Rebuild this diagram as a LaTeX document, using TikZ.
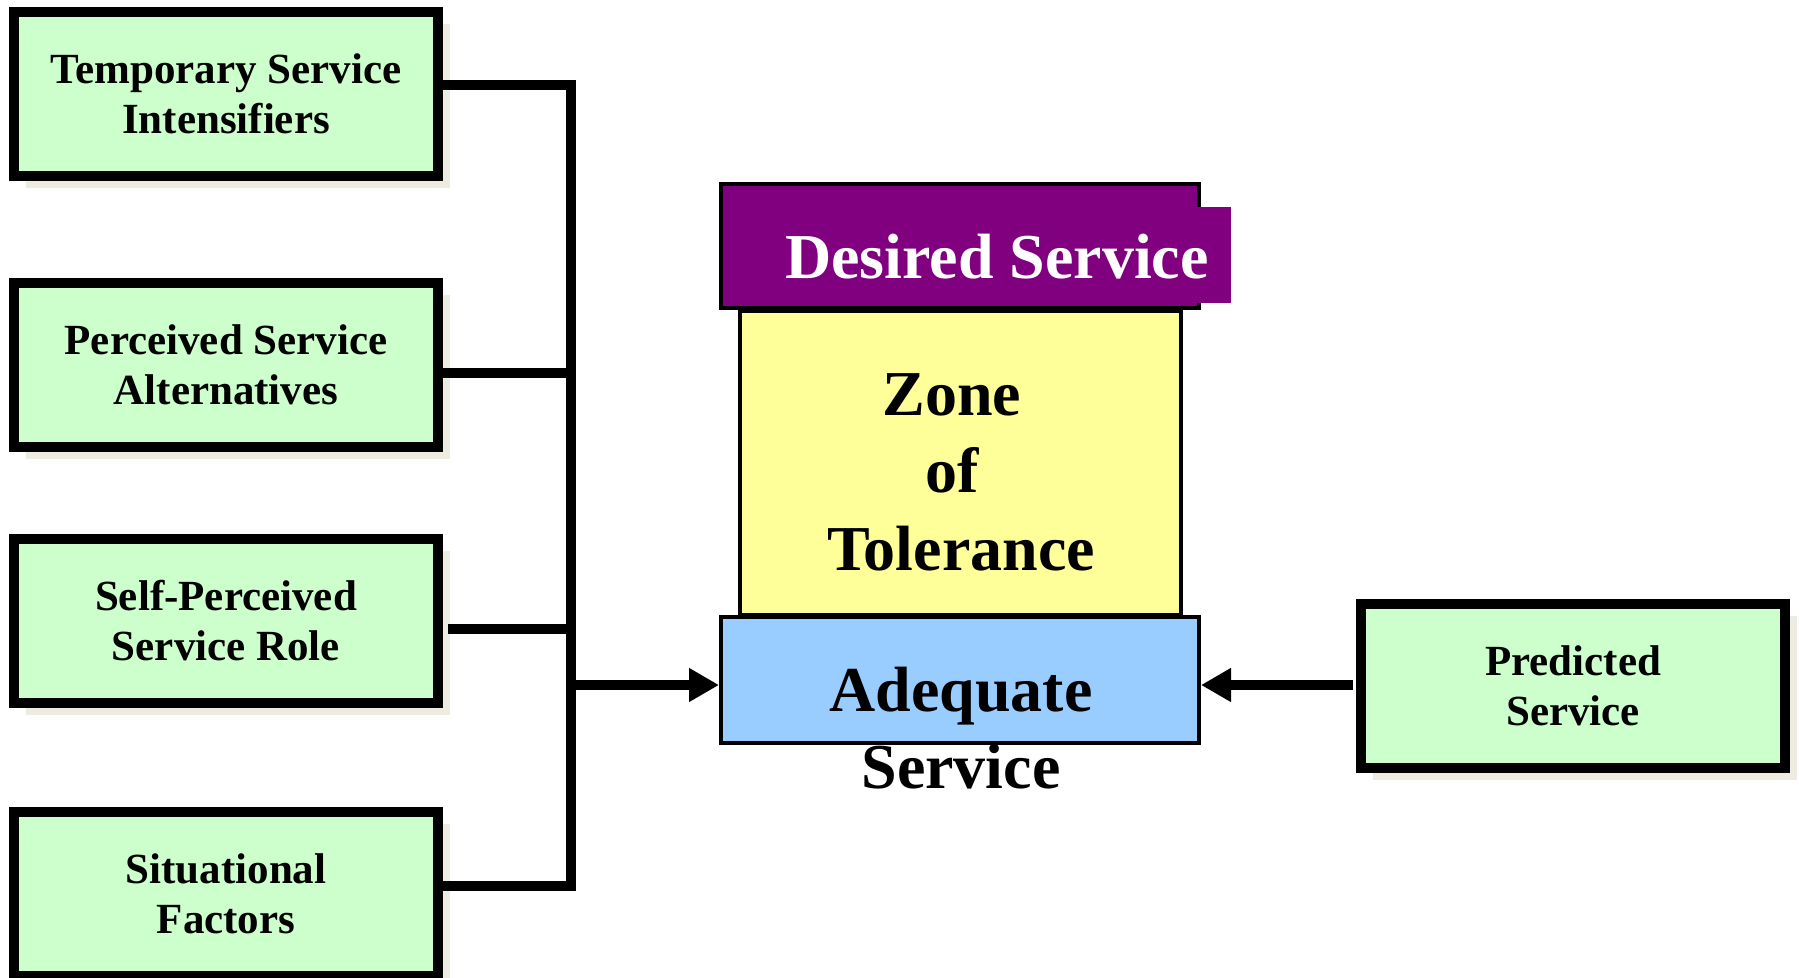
\documentclass[tikz,border=0pt]{standalone}
\usepackage{fontspec}
\setmainfont{Liberation Serif}
\usetikzlibrary{arrows.meta,shadows}
\definecolor{boxgreen}{HTML}{CCFFCC}
\definecolor{zoneyellow}{HTML}{FFFF99}
\definecolor{adblue}{HTML}{99CCFF}
\definecolor{despurple}{HTML}{800080}
\definecolor{shadowc}{HTML}{EEEBE1}
\begin{document}
\begin{tikzpicture}[x=0.5pt,y=-0.5pt,
  sidebox/.style={draw=black, line width=5pt, fill=boxgreen,
    minimum width=212pt, minimum height=82pt, inner sep=0pt, align=center,
    font=\fontsize{21.5}{25}\selectfont\bfseries,
    drop shadow={shadow xshift=6pt, shadow yshift=-6pt, fill=shadowc, opacity=1}},
  midbox/.style={draw=black, line width=2pt, inner sep=0pt},
  bigtext/.style={anchor=base, inner sep=0pt, font=\fontsize{32}{38}\selectfont\bfseries},
  conn/.style={draw=black, line width=5pt, line join=miter},
  tip/.style={-{Triangle[length=15pt,width=16pt]}}]
\fill[white] (0,0) rectangle (1799,978);
\useasboundingbox (0,0) rectangle (1799,978);

% left boxes
\node[sidebox] (b1) at (226,94) {Temporary Service\\Intensifiers};
\node[sidebox] (b2) at (226,365) {Perceived Service\\Alternatives};
\node[sidebox] (b3) at (226,621) {Self-Perceived\\Service Role};
\node[sidebox] (b4) at (226,894) {Situational\\Factors};
% right box
\node[sidebox] (pr) at (1573,686) {Predicted\\Service};

% central stack
\node[midbox, fill=zoneyellow, minimum width=220.5pt, minimum height=152pt] (zone) at (960,463) {};
\node[midbox, fill=despurple, minimum width=239pt, minimum height=62pt] (des) at (960,246) {};
\fill[despurple] (1195,207) rectangle (1231,303);
\node[bigtext, text=white] (dest) at (997,279) {Desired Service};
\node[midbox, fill=adblue, minimum width=239pt, minimum height=63pt] (ad) at (960,680) {};

\node[bigtext] (z1) at (952,416) {Zone};
\node[bigtext] (z2) at (952,493) {of};
\node[bigtext] (z3) at (961,570) {Tolerance};
\node[bigtext] (a1) at (961,711) {Adequate};
\node[bigtext] (a2) at (961,788) {Service};

% connectors
\coordinate (vt) at (571,85);
\coordinate (vb) at (571,886);
\coordinate (j2) at (571,373);
\coordinate (j3) at (571,629);
\coordinate (ja) at (571,685);
\path ([xshift=2.5pt]b3.east) coordinate (b3e);
\path ([xshift=-1.5pt]pr.west) coordinate (pre);

\draw[conn] (b1.east |- vt) -- (vt) -- (vb) -- (b4.east |- vb);
\draw[conn] (b2.east |- j2) -- (j2);
\draw[conn] (b3e |- j3) -- (j3);
\draw[conn, tip] (ja) -- (ad.west |- ja);
\draw[conn, tip] (pre |- ja) -- (ad.east |- ja);
\end{tikzpicture}
\end{document}
